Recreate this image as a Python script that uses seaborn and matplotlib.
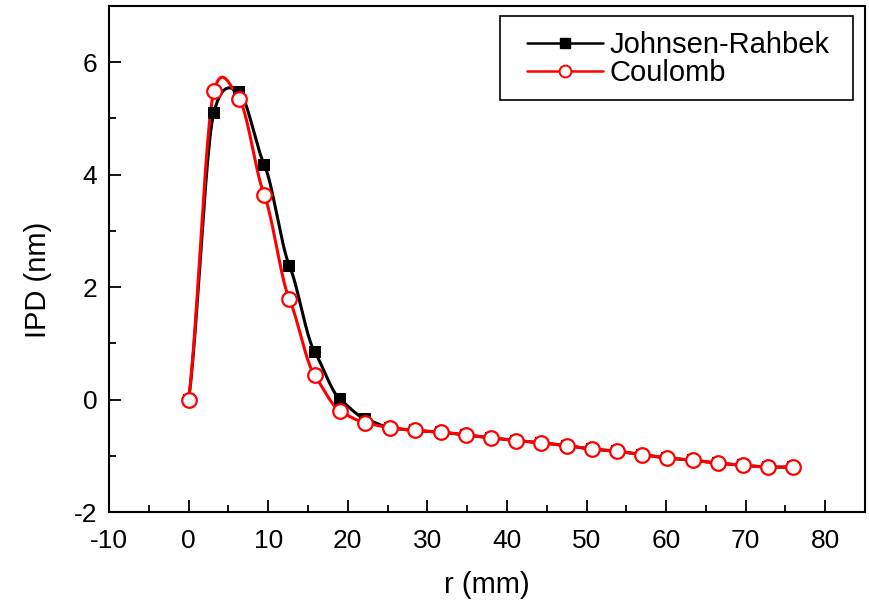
import numpy as np
import pandas as pd
import matplotlib
matplotlib.use("Agg")
import matplotlib.pyplot as plt
from matplotlib.lines import Line2D
from matplotlib.patches import Rectangle
from matplotlib.ticker import MultipleLocator
import seaborn as sns

# ---- data ----
r_mm = [0.0, 3.17, 6.33, 9.5, 12.67, 15.83, 19.0, 22.17, 25.33, 28.5, 31.67,
        34.83, 38.0, 41.17, 44.33, 47.5, 50.67, 53.83, 57.0, 60.17, 63.33,
        66.5, 69.67, 72.83, 76.0]
jr_ipd = [0.0, 5.10, 5.47, 4.18, 2.38, 0.85, 0.01, -0.34, -0.50, -0.55, -0.58,
          -0.63, -0.68, -0.73, -0.77, -0.82, -0.88, -0.92, -0.98, -1.04, -1.08,
          -1.13, -1.17, -1.20, -1.20]
coul_ipd = [0.0, 5.48, 5.35, 3.64, 1.78, 0.43, -0.20, -0.41, -0.50, -0.55, -0.58,
            -0.63, -0.68, -0.73, -0.77, -0.82, -0.88, -0.92, -0.98, -1.04, -1.08,
            -1.13, -1.17, -1.20, -1.20]
series_names = ["Johnsen-Rahbek", "Coulomb"]


def cardinal_spline(x, y, tension=0.38, n_per_seg=40):
    """Smooth connecting curve through the given points (cardinal spline)."""
    x = np.asarray(x, float)
    y = np.asarray(y, float)
    m = len(x)
    slopes = np.zeros(m)
    for i in range(m):
        if i == 0:
            s = (y[1] - y[0]) / (x[1] - x[0])
        elif i == m - 1:
            s = (y[-1] - y[-2]) / (x[-1] - x[-2])
        else:
            s = (y[i + 1] - y[i - 1]) / (x[i + 1] - x[i - 1])
        slopes[i] = (1 - tension) * s
    xs_all, ys_all = [], []
    for i in range(m - 1):
        h = x[i + 1] - x[i]
        t = np.linspace(0, 1, n_per_seg, endpoint=(i == m - 2))
        h00 = 2 * t**3 - 3 * t**2 + 1
        h10 = t**3 - 2 * t**2 + t
        h01 = -2 * t**3 + 3 * t**2
        h11 = t**3 - t**2
        ys = h00 * y[i] + h10 * h * slopes[i] + h01 * y[i + 1] + h11 * h * slopes[i + 1]
        xs_all.append(x[i] + t * h)
        ys_all.append(ys)
    return np.concatenate(xs_all), np.concatenate(ys_all)


sns.set_style("white")
plt.rcParams["font.family"] = ["Liberation Sans", "DejaVu Sans"]
plt.rcParams["axes.unicode_minus"] = False
plt.rcParams["text.color"] = "black"
plt.rcParams["axes.labelcolor"] = "black"
plt.rcParams["xtick.color"] = "black"
plt.rcParams["ytick.color"] = "black"

fig = plt.figure(figsize=(8.7, 6.04), dpi=100)
ax = fig.add_axes([0.1253, 0.1523, 0.8690, 0.8378])

styles = [
    dict(color="black", marker="s", mfc="black", mec="black", ms=9.0, mew=0),
    dict(color="red", marker="o", mfc="white", mec="red", ms=10.5, mew=1.6),
]

for name, ys, st in zip(series_names, [jr_ipd, coul_ipd], styles):
    xs_s, ys_s = cardinal_spline(r_mm, ys)
    sns.lineplot(x=xs_s, y=ys_s, ax=ax, color=st["color"], lw=2.2,
                 legend=False, sort=False, zorder=2)

for name, ys, st in zip(series_names, [jr_ipd, coul_ipd], styles):
    ax.plot(r_mm, ys, ls="none", marker=st["marker"], ms=st["ms"],
            mfc=st["mfc"], mec=st["mec"], mew=st["mew"], zorder=3)

ax.set_xlim(-10, 85)
ax.set_ylim(-2, 7)
ax.xaxis.set_major_locator(MultipleLocator(10))
ax.xaxis.set_minor_locator(MultipleLocator(5))
ax.yaxis.set_major_locator(MultipleLocator(2))
ax.yaxis.set_minor_locator(MultipleLocator(1))
ax.tick_params(which="both", direction="in", top=False, right=False,
               bottom=True, left=True, width=1.3, colors="black",
               labelcolor="black", labelsize=19)
ax.tick_params(which="major", length=8.4)
ax.tick_params(which="minor", length=4.8)
ax.tick_params(axis="x", which="major", pad=12)
ax.tick_params(axis="y", which="major", pad=8.5)
for sp in ax.spines.values():
    sp.set_visible(True)
    sp.set_color("black")
    sp.set_linewidth(1.5)

ax.set_xlabel("r (mm)", fontsize=21, color="black")
ax.set_ylabel("IPD (nm)", fontsize=21, color="black")
ax.xaxis.set_label_coords(0.5, -0.117)
ax.yaxis.set_label_coords(-0.075, 0.458)

# legend frame (Origin-style, wider side padding)
ax.add_patch(Rectangle((0.517, 0.814), 0.984 - 0.517, 0.980 - 0.814,
                       transform=ax.transAxes, facecolor="white",
                       edgecolor="black", lw=1.2, zorder=5))
handles = [
    Line2D([], [], color="black", lw=1.8, marker="s", ms=7, mfc="black",
           mec="black"),
    Line2D([], [], color="red", lw=1.8, marker="o", ms=8.5, mfc="white",
           mec="red", mew=1.4),
]
leg = ax.legend(handles, series_names, loc="center left", fontsize=21,
                frameon=False, handlelength=2.6, handletextpad=0.24,
                borderpad=0, labelspacing=0.0, borderaxespad=0,
                bbox_to_anchor=(0.553, 0.895))
leg.set_zorder(6)
for txt in leg.get_texts():
    txt.set_color("black")

fig.savefig("out.png", dpi=100)
